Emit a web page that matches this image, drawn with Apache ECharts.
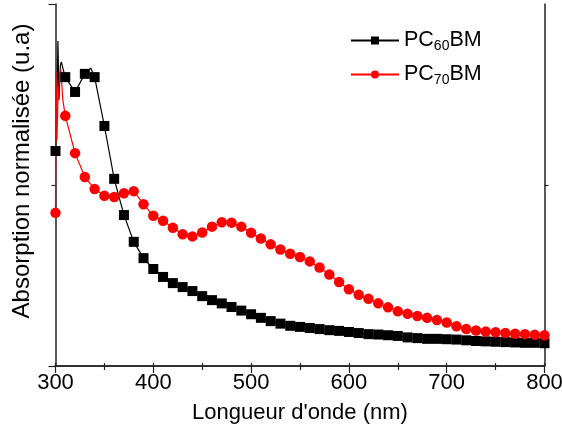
<!DOCTYPE html>
<html>
<head>
<meta charset="utf-8">
<script src="https://cdn.jsdelivr.net/npm/echarts@6/dist/echarts.min.js"></script>
<style>
html,body{margin:0;padding:0;background:#fff;}
#chart{width:562px;height:439px;}
</style>
</head>
<body>
<div id="chart"></div>
<script>
// Wavelengths (nm) and normalised absorption values
const wl60 = [300, 301, 302.5, 303.5, 305, 306, 308, 310, 320, 330, 336, 340, 350, 360, 370, 380, 390, 400, 410, 420, 430, 440, 450, 460, 470, 480, 490, 500, 510, 520, 530, 540, 550, 560, 570, 580, 590, 600, 610, 620, 630, 640, 650, 660, 670, 680, 690, 700, 710, 720, 730, 740, 750, 760, 770, 780, 790, 800];
const abs60 = [0.594, 0.680, 0.898, 0.735, 0.831, 0.840, 0.818, 0.798, 0.757, 0.807, 0.823, 0.798, 0.663, 0.517, 0.417, 0.343, 0.298, 0.268, 0.246, 0.229, 0.218, 0.207, 0.193, 0.182, 0.173, 0.163, 0.153, 0.143, 0.133, 0.124, 0.117, 0.111, 0.108, 0.105, 0.102, 0.099, 0.097, 0.094, 0.091, 0.088, 0.087, 0.085, 0.083, 0.079, 0.077, 0.075, 0.075, 0.074, 0.073, 0.071, 0.069, 0.068, 0.067, 0.066, 0.065, 0.064, 0.064, 0.063];

const wl70 = [300, 300.5, 301.5, 302.5, 304, 305.5, 307.5, 310, 320, 330, 340, 350, 360, 370, 380, 390, 400, 410, 420, 430, 440, 450, 460, 470, 480, 490, 500, 510, 520, 530, 540, 550, 560, 570, 580, 590, 600, 610, 620, 630, 640, 650, 660, 670, 680, 690, 700, 710, 720, 730, 740, 750, 760, 770, 780, 790, 800];
const abs70 = [0.423, 0.812, 0.624, 0.735, 0.790, 0.818, 0.735, 0.691, 0.588, 0.522, 0.489, 0.470, 0.467, 0.477, 0.483, 0.447, 0.415, 0.401, 0.382, 0.364, 0.358, 0.369, 0.385, 0.397, 0.396, 0.385, 0.368, 0.352, 0.336, 0.322, 0.310, 0.301, 0.289, 0.272, 0.253, 0.232, 0.212, 0.197, 0.186, 0.173, 0.162, 0.151, 0.144, 0.138, 0.133, 0.127, 0.120, 0.110, 0.102, 0.098, 0.095, 0.093, 0.091, 0.089, 0.088, 0.086, 0.085];

const seriesNames = ['PC60BM', 'PC70BM'];
const xTicks = {min: 300, max: 800, step: 100};
const xTitle = "Longueur d'onde (nm)";
const yTitle = 'Absorption normalisée (u.a)';

function build(wl, ab) {
  return wl.map((w, i) => {
    const item = {value: [w, ab[i]]};
    if (w % 10 !== 0) item.symbol = 'none';
    return item;
  });
}

const FONT = 'Liberation Sans, Arial, sans-serif';
const AX = '#222';

const chart = echarts.init(document.getElementById('chart'), null, {renderer: 'canvas'});
chart.setOption({
  animation: false,
  backgroundColor: '#fff',
  grid: {left: 55.5, right: 17.5, top: 4, bottom: 73, containLabel: false, outerBoundsMode: 'none'},
  legend: {
    left: 345, top: 23, orient: 'vertical', itemGap: 9,
    itemWidth: 48, itemHeight: 10,
    data: seriesNames,
    formatter: function (n) {
      return '{a|PC}{s|' + n.slice(2, 4) + '}{a|BM}';
    },
    textStyle: {
      fontFamily: FONT, color: '#000',
      rich: {
        a: {fontSize: 21.5, fontFamily: FONT, color: '#000', lineHeight: 25},
        s: {fontSize: 14, fontFamily: FONT, color: '#000', padding: [11, 0, 0, 0], lineHeight: 25}
      }
    }
  },
  xAxis: [{
    type: 'value', min: xTicks.min, max: xTicks.max, interval: xTicks.step, position: 'bottom',
    axisLine: {lineStyle: {color: AX, width: 1.5}},
    axisTick: {length: 7, lineStyle: {color: AX, width: 1.2}},
    minorTick: {show: true, splitNumber: 2, length: 4, lineStyle: {color: AX, width: 1.2}},
    axisLabel: {fontSize: 22, fontFamily: FONT, color: '#000', margin: 6},
    splitLine: {show: false},
    name: xTitle, nameLocation: 'middle', nameGap: 36,
    nameTextStyle: {fontSize: 22, fontFamily: FONT, color: '#000'}
  }, {
    type: 'value', min: xTicks.min, max: xTicks.max, interval: xTicks.step, position: 'top',
    axisLine: {lineStyle: {color: AX, width: 1.5}},
    axisTick: {length: 3, lineStyle: {color: AX, width: 1.2}},
    minorTick: {show: true, splitNumber: 2, length: 3, lineStyle: {color: AX, width: 1.2}},
    axisLabel: {show: false},
    splitLine: {show: false}
  }],
  yAxis: [{
    type: 'value', min: 0, max: 1, interval: 1, position: 'left',
    axisLine: {lineStyle: {color: AX, width: 1.5}},
    axisTick: {length: 7, lineStyle: {color: AX, width: 1.2}},
    minorTick: {show: true, splitNumber: 2, length: 4, lineStyle: {color: AX, width: 1.2}},
    axisLabel: {show: false},
    splitLine: {show: false},
    name: yTitle, nameLocation: 'middle', nameGap: 21,
    nameTextStyle: {fontSize: 24, fontFamily: FONT, color: '#000', padding: [0, 0, 0, 28]}
  }, {
    type: 'value', min: 0, max: 1, interval: 1, position: 'right',
    axisLine: {lineStyle: {color: AX, width: 1.5}},
    axisTick: {show: false},
    minorTick: {show: true, splitNumber: 2, length: 4, lineStyle: {color: AX, width: 1.2}},
    axisLabel: {show: false},
    splitLine: {show: false}
  }],
  series: [{
    name: seriesNames[0], type: 'line', xAxisIndex: 0, yAxisIndex: 0,
    data: build(wl60, abs60),
    symbol: 'rect', symbolSize: 10, showAllSymbol: true,
    lineStyle: {color: '#000', width: 1.2},
    itemStyle: {color: '#000'}
  }, {
    name: seriesNames[1], type: 'line', xAxisIndex: 0, yAxisIndex: 0,
    data: build(wl70, abs70),
    symbol: 'circle', symbolSize: 10.5, showAllSymbol: true,
    lineStyle: {color: '#ff0000', width: 1.2},
    itemStyle: {color: '#ff0000'}
  }]
});
</script>
</body>
</html>
